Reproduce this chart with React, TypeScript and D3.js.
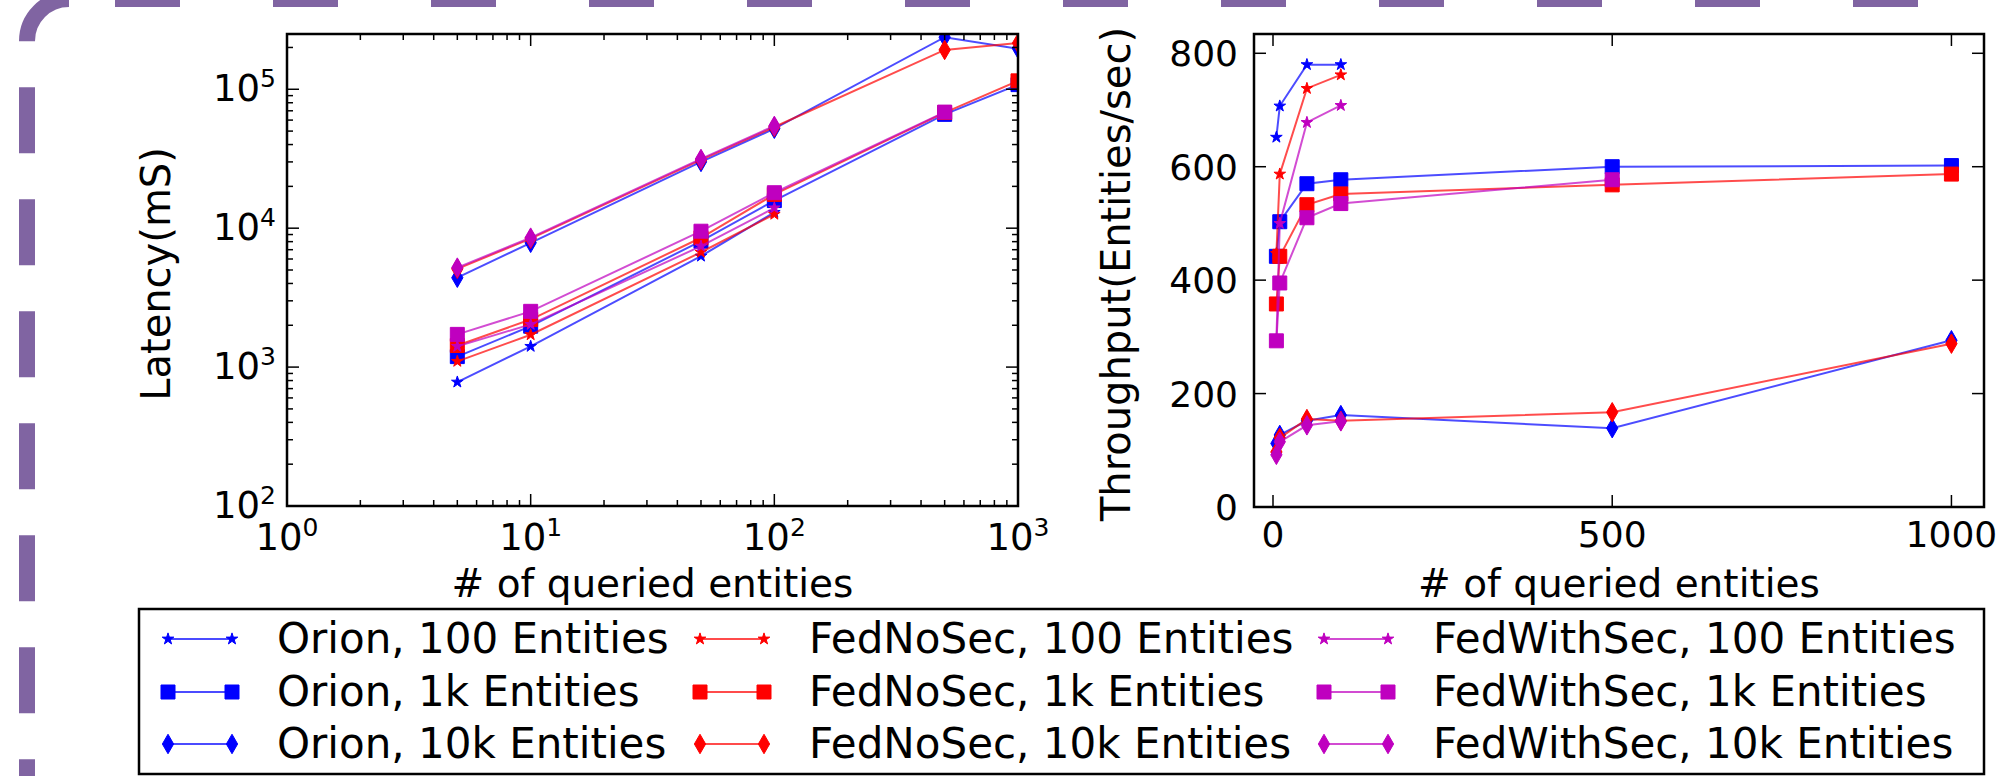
import React from "react";
import * as d3 from "d3";

// queried entity counts (x axis of both panels)
const queried = [5, 10, 50, 100, 500, 1000];

// latency in ms (left panel, log-log)
const orion100Lat = [780, 1410, 6290, 13000];
const orion1kLat = [1190, 1970, 8060, 15800, 66000, 108000];
const orion10kLat = [4400, 7850, 30000, 52000, 237000, 196000];
const fedNoSec100Lat = [1100, 1710, 6710, 12600];
const fedNoSec1kLat = [1430, 2200, 8530, 17500, 68000, 115000];
const fedNoSec10kLat = [5100, 8400, 31000, 53500, 192000, 215000];
const fedWithSec100Lat = [1410, 2030, 7420, 14000];
const fedWithSec1kLat = [1720, 2520, 9510, 18000, 68500];
const fedWithSec10kLat = [5200, 8550, 31500, 54500];

// throughput in entities/sec (right panel)
const orion100Thr = [652, 707, 780, 780];
const orion1kThr = [442, 503, 570, 577, 600, 602];
const orion10kThr = [112, 127, 152, 162, 139, 294];
const fedNoSec100Thr = [447, 587, 738, 762];
const fedNoSec1kThr = [358, 442, 533, 552, 568, 587];
const fedNoSec10kThr = [97, 122, 155, 152, 167, 288];
const fedWithSec100Thr = [295, 500, 678, 708];
const fedWithSec1kThr = [293, 395, 510, 535, 577];
const fedWithSec10kThr = [92, 115, 144, 151];

const systems = ["Orion", "FedNoSec", "FedWithSec"];
const sizes = ["100 Entities", "1k Entities", "10k Entities"];
const colors = ["#0000ff", "#ff0000", "#bf00bf"];
const markers = ["star", "square", "diamond"];

const latTicks = [2, 3, 4, 5];
const thrYTicks = [0, 200, 400, 600, 800];
const thrXTicks = [0, 500, 1000];

const latData = [
  [orion100Lat, orion1kLat, orion10kLat],
  [fedNoSec100Lat, fedNoSec1kLat, fedNoSec10kLat],
  [fedWithSec100Lat, fedWithSec1kLat, fedWithSec10kLat],
];
const thrData = [
  [orion100Thr, orion1kThr, orion10kThr],
  [fedNoSec100Thr, fedNoSec1kThr, fedNoSec10kThr],
  [fedWithSec100Thr, fedWithSec1kThr, fedWithSec10kThr],
];

const FONT = "DejaVu Sans";
const PURPLE = "#8064A2";

const symbolPath = (m: string) => {
  if (m === "star") return d3.symbol().type(d3.symbolStar).size(42)()!;
  if (m === "square") return d3.symbol().type(d3.symbolSquare).size(196)()!;
  return d3.symbol().type(d3.symbolDiamond).size(110)()!;
};

const Series = ({ vals, color, marker, x, y, clip }: any) => {
  const pts = vals.map((v: number, i: number) => [x(queried[i]), y(v)]);
  const line = d3.line();
  const sym = symbolPath(marker);
  return (
    <g clipPath={`url(#${clip})`}>
      <path d={line(pts) || ""} fill="none" stroke={color} strokeWidth={2} opacity={0.7} />
      {pts.map((p: number[], i: number) => (
        <path key={i} d={sym} transform={`translate(${p[0]},${p[1]})`} fill={color} stroke={color} strokeWidth={1} />
      ))}
    </g>
  );
};

const Frame = ({ x0, x1, y0, y1 }: any) => (
  <rect x={x0} y={y0} width={x1 - x0} height={y1 - y0} fill="none" stroke="#000" strokeWidth={2.5} />
);

const LatencyPanel = () => {
  const x0 = 287, x1 = 1018, y0 = 34, y1 = 506;
  const x = d3.scaleLog().domain([1, 1000]).range([x0, x1]);
  const y = d3.scaleLog().domain([100, 250000]).range([y1, y0]);
  const isMajor = (t: number) => Math.abs(Math.log10(t) - Math.round(Math.log10(t))) < 1e-9;
  return (
    <g>
      <clipPath id="clipL"><rect x={x0} y={y0} width={x1 - x0} height={y1 - y0} /></clipPath>
      {latData.map((grp, s) =>
        grp.map((vals, k) => (
          <Series key={`${s}-${k}`} vals={vals} color={colors[s]} marker={markers[k]} x={x} y={y} clip="clipL" />
        ))
      )}
      {x.ticks().map((t, i) => {
        const len = isMajor(t) ? 12 : 6;
        const px = x(t);
        return (
          <g key={"xt" + i} stroke="#000" strokeWidth={1.5}>
            <line x1={px} x2={px} y1={y1} y2={y1 - len} />
            <line x1={px} x2={px} y1={y0} y2={y0 + len} />
          </g>
        );
      })}
      {y.ticks().filter(t => t <= 250000).map((t, i) => {
        const len = isMajor(t) ? 12 : 6;
        const py = y(t);
        return (
          <g key={"yt" + i} stroke="#000" strokeWidth={1.5}>
            <line x1={x0} x2={x0 + len} y1={py} y2={py} />
            <line x1={x1} x2={x1 - len} y1={py} y2={py} />
          </g>
        );
      })}
      <Frame x0={x0} x1={x1} y0={y0} y1={y1} />
      {[0, 1, 2, 3].map(k => (
        <text key={"xl" + k} x={x(Math.pow(10, k))} y={550} textAnchor="middle" fontFamily={FONT} fontSize={37}>
          <tspan>10</tspan>
          <tspan dy={-14} fontSize={25}>{k}</tspan>
        </text>
      ))}
      {latTicks.map(k => (
        <text key={"yl" + k} x={276} y={y(Math.pow(10, k)) + 12} textAnchor="end" fontFamily={FONT} fontSize={37}>
          <tspan>10</tspan>
          <tspan dy={-14} fontSize={25}>{k}</tspan>
        </text>
      ))}
      <text x={(x0 + x1) / 2} y={597} textAnchor="middle" fontFamily={FONT} fontSize={39}># of queried entities</text>
      <text transform={`translate(170,274) rotate(-90)`} textAnchor="middle" fontFamily={FONT} fontSize={40}>Latency(mS)</text>
    </g>
  );
};

const ThroughputPanel = () => {
  const x0 = 1254, x1 = 1984, y0 = 34, y1 = 507;
  const x = d3.scaleLinear().domain([-28, 1048]).range([x0, x1]);
  const y = d3.scaleLinear().domain([0, 834]).range([y1, y0]);
  return (
    <g>
      <clipPath id="clipR"><rect x={x0} y={y0} width={x1 - x0} height={y1 - y0} /></clipPath>
      {thrData.map((grp, s) =>
        grp.map((vals, k) => (
          <Series key={`${s}-${k}`} vals={vals} color={colors[s]} marker={markers[k]} x={x} y={y} clip="clipR" />
        ))
      )}
      {thrXTicks.map(t => (
        <g key={"xt" + t} stroke="#000" strokeWidth={1.5}>
          <line x1={x(t)} x2={x(t)} y1={y1} y2={y1 - 12} />
          <line x1={x(t)} x2={x(t)} y1={y0} y2={y0 + 12} />
        </g>
      ))}
      {thrYTicks.map(t => (
        <g key={"yt" + t} stroke="#000" strokeWidth={1.5}>
          <line x1={x0} x2={x0 + 12} y1={y(t)} y2={y(t)} />
          <line x1={x1} x2={x1 - 12} y1={y(t)} y2={y(t)} />
        </g>
      ))}
      <Frame x0={x0} x1={x1} y0={y0} y1={y1} />
      {thrXTicks.map(t => (
        <text key={"xl" + t} x={x(t)} y={547} textAnchor="middle" fontFamily={FONT} fontSize={36}>{t}</text>
      ))}
      {thrYTicks.map(t => (
        <text key={"yl" + t} x={1238} y={y(t) + 13} textAnchor="end" fontFamily={FONT} fontSize={36}>{t}</text>
      ))}
      <text x={(x0 + x1) / 2} y={597} textAnchor="middle" fontFamily={FONT} fontSize={39}># of queried entities</text>
      <text transform={`translate(1130,274) rotate(-90)`} textAnchor="middle" fontFamily={FONT} fontSize={40}>Throughput(Entities/sec)</text>
    </g>
  );
};

const Legend = () => {
  const colX = [277, 809, 1433];
  const rowY = [639, 692, 744];
  return (
    <g>
      <rect x={139} y={609} width={1984 - 139} height={165} fill="#fff" stroke="#000" strokeWidth={2.5} />
      {systems.map((sys, s) =>
        sizes.map((sz, k) => {
          const tx = colX[s], ty = rowY[k];
          const sym = symbolPath(markers[k]);
          return (
            <g key={`${s}-${k}`}>
              <line x1={tx - 109} x2={tx - 45} y1={ty} y2={ty} stroke={colors[s]} strokeWidth={2} opacity={0.7} />
              {[tx - 109, tx - 45].map((mx, j) => (
                <path key={j} d={sym} transform={`translate(${mx},${ty})`} fill={colors[s]} stroke={colors[s]} strokeWidth={1} />
              ))}
              <text x={tx} y={ty + 14} fontFamily={FONT} fontSize={42}>{`${sys}, ${sz}`}</text>
            </g>
          );
        })
      )}
    </g>
  );
};

const Border = () => (
  <g fill="none" stroke={PURPLE} strokeWidth={16}>
    <path d="M69,-1 A42,42 0 0 0 27,41 L27,900" strokeDasharray="66 46" />
    <path d="M69,-1 L2100,-1" strokeDasharray="0 46 65 47" />
  </g>
);

export default function App() {
  return (
    <svg width={2000} height={776} style={{ display: "block", position: "absolute", left: 0, top: 0, background: "#fff" }}>
      <rect width={2000} height={776} fill="#fff" />
      <Border />
      <LatencyPanel />
      <ThroughputPanel />
      <Legend />
    </svg>
  );
}
